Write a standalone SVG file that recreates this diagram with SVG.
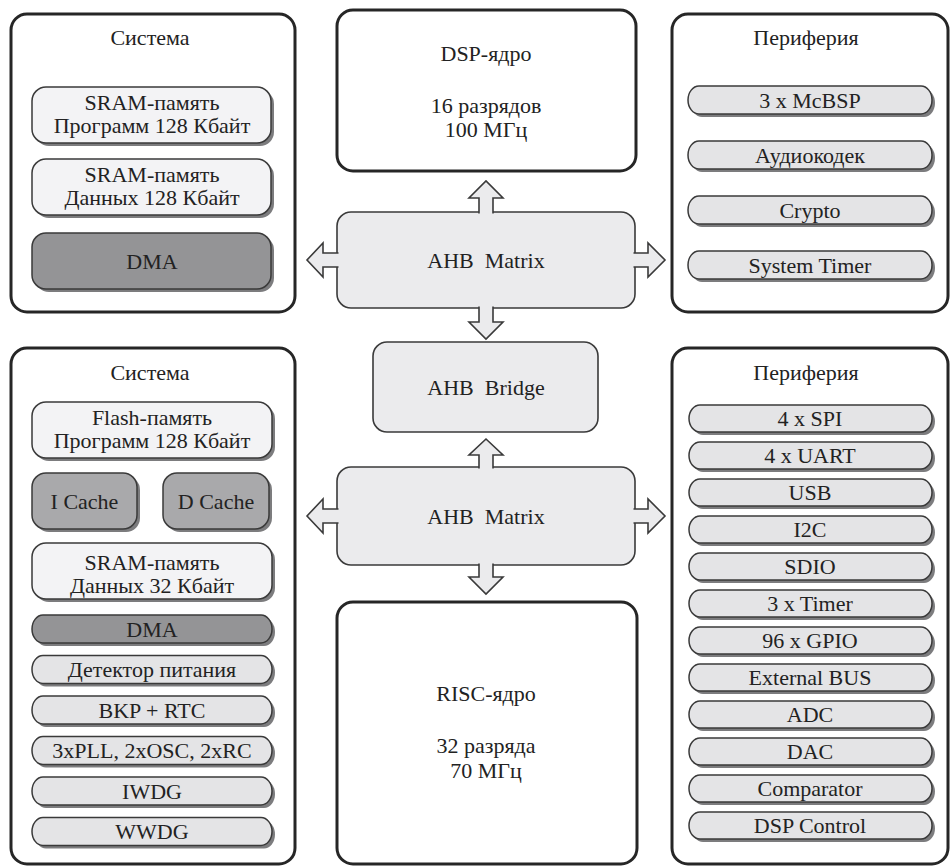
<svg xmlns="http://www.w3.org/2000/svg" width="950" height="868" viewBox="0 0 950 868">
  <style>
    text { font-family: "Liberation Serif", "Times New Roman", serif; font-size: 22px; fill: #222; text-anchor: middle; }
    .panel { fill: #ffffff; stroke: #262626; stroke-width: 3; }
    .bus { fill: #ebebed; stroke: #3a3a3a; stroke-width: 1.6; }
    .shadow { fill: #7c7c7e; }
    .pill { stroke: #3a3a3a; stroke-width: 1.5; }
    .light { fill: #f3f3f5; }
    .mid { fill: #e4e4e6; }
    .cache { fill: #a9a9ab; }
    .dark { fill: #949496; }
    .arrow { fill: #ebebed; stroke: #3a3a3a; stroke-width: 1.6; stroke-linejoin: miter; }
  </style>

  <!-- Upper system block -->
  <g id="sys-upper">
    <rect class="panel" x="11" y="14" width="284" height="298" rx="16"/>
    <text x="150" y="45">Система</text>
    <g id="sram-prog">
      <rect class="shadow" x="35" y="90" width="239" height="56" rx="14"/>
      <rect class="pill light" x="32" y="87" width="239" height="56" rx="14"/>
      <text x="152" y="110">SRAM-память</text>
      <text x="152" y="133">Программ 128 Кбайт</text>
    </g>
    <g id="sram-data">
      <rect class="shadow" x="35" y="162" width="239" height="56" rx="14"/>
      <rect class="pill light" x="32" y="159" width="239" height="56" rx="14"/>
      <text x="152" y="182">SRAM-память</text>
      <text x="152" y="205">Данных 128 Кбайт</text>
    </g>
    <g id="dma-upper">
      <rect class="shadow" x="35" y="236" width="239" height="56" rx="14"/>
      <rect class="pill dark" x="32" y="233" width="239" height="56" rx="14"/>
      <text x="152" y="269">DMA</text>
    </g>
  </g>

  <!-- DSP core -->
  <g id="dsp-core">
    <rect class="panel" x="337" y="10" width="299" height="161" rx="16"/>
    <text x="486" y="61">DSP-ядро</text>
    <text x="486" y="113">16 разрядов</text>
    <text x="486" y="137">100 МГц</text>
  </g>

  <!-- Upper peripheral block -->
  <g id="periph-upper">
    <rect class="panel" x="672" y="14" width="276" height="298" rx="16"/>
    <text x="806" y="45">Периферия</text>
    <g id="mcbsp">
      <rect class="shadow" x="691" y="89" width="244" height="28" rx="11" ry="14"/>
      <rect class="pill mid" x="688" y="86" width="244" height="28" rx="11" ry="14"/>
      <text x="810" y="107.5">3 x McBSP</text>
    </g>
    <g id="audiocodec">
      <rect class="shadow" x="691" y="144" width="244" height="28" rx="11" ry="14"/>
      <rect class="pill mid" x="688" y="141" width="244" height="28" rx="11" ry="14"/>
      <text x="810" y="162.5">Аудиокодек</text>
    </g>
    <g id="crypto">
      <rect class="shadow" x="691" y="199" width="244" height="28" rx="11" ry="14"/>
      <rect class="pill mid" x="688" y="196" width="244" height="28" rx="11" ry="14"/>
      <text x="810" y="217.5">Crypto</text>
    </g>
    <g id="system-timer">
      <rect class="shadow" x="691" y="254" width="244" height="28" rx="11" ry="14"/>
      <rect class="pill mid" x="688" y="251" width="244" height="28" rx="11" ry="14"/>
      <text x="810" y="272.5">System Timer</text>
    </g>
  </g>

  <!-- Bus fabric -->
  <g id="ahb-matrix-upper">
    <rect class="bus" x="337" y="212" width="298" height="96" rx="14"/>
    <text x="486" y="267.5" xml:space="preserve">AHB  Matrix</text>
  </g>
  <g id="ahb-bridge">
    <rect class="bus" x="373" y="342" width="225" height="90" rx="14"/>
    <text x="486" y="394.5" xml:space="preserve">AHB  Bridge</text>
  </g>
  <g id="ahb-matrix-lower">
    <rect class="bus" x="337" y="467" width="298" height="98" rx="14"/>
    <text x="486" y="523.5" xml:space="preserve">AHB  Matrix</text>
  </g>

  <!-- RISC core -->
  <g id="risc-core">
    <rect class="panel" x="337" y="602" width="300" height="262" rx="16"/>
    <text x="486" y="701">RISC-ядро</text>
    <text x="486" y="753">32 разряда</text>
    <text x="486" y="778">70 МГц</text>
  </g>

  <!-- Lower system block -->
  <g id="sys-lower">
    <rect class="panel" x="11" y="348" width="284" height="516" rx="16"/>
    <text x="150" y="380">Система</text>
    <g id="flash-prog">
      <rect class="shadow" x="35" y="405" width="240" height="56" rx="14"/>
      <rect class="pill light" x="32" y="402" width="240" height="56" rx="14"/>
      <text x="152" y="425">Flash-память</text>
      <text x="152" y="448">Программ 128 Кбайт</text>
    </g>
    <g id="i-cache">
      <rect class="shadow" x="35" y="476" width="105" height="56" rx="14"/>
      <rect class="pill cache" x="32" y="473" width="105" height="56" rx="14"/>
      <text x="84.5" y="509">I Cache</text>
    </g>
    <g id="d-cache">
      <rect class="shadow" x="166" y="476" width="106" height="56" rx="14"/>
      <rect class="pill cache" x="163" y="473" width="106" height="56" rx="14"/>
      <text x="216" y="509">D Cache</text>
    </g>
    <g id="sram-data-lower">
      <rect class="shadow" x="35" y="546" width="240" height="56" rx="14"/>
      <rect class="pill light" x="32" y="543" width="240" height="56" rx="14"/>
      <text x="152" y="570">SRAM-память</text>
      <text x="152" y="593">Данных 32 Кбайт</text>
    </g>
    <g id="dma-lower">
      <rect class="shadow" x="35" y="618" width="240" height="28" rx="11" ry="14"/>
      <rect class="pill dark" x="32" y="615" width="240" height="28" rx="11" ry="14"/>
      <text x="152" y="636.5">DMA</text>
    </g>
    <g id="power-detector">
      <rect class="shadow" x="35" y="658.5" width="240" height="28" rx="11" ry="14"/>
      <rect class="pill mid" x="32" y="655.5" width="240" height="28" rx="11" ry="14"/>
      <text x="152" y="677">Детектор питания</text>
    </g>
    <g id="bkp-rtc">
      <rect class="shadow" x="35" y="699" width="240" height="28" rx="11" ry="14"/>
      <rect class="pill mid" x="32" y="696" width="240" height="28" rx="11" ry="14"/>
      <text x="152" y="717.5">BKP + RTC</text>
    </g>
    <g id="clocks">
      <rect class="shadow" x="35" y="739.5" width="240" height="28" rx="11" ry="14"/>
      <rect class="pill mid" x="32" y="736.5" width="240" height="28" rx="11" ry="14"/>
      <text x="152" y="758">3xPLL, 2xOSC, 2xRC</text>
    </g>
    <g id="iwdg">
      <rect class="shadow" x="35" y="780" width="240" height="28" rx="11" ry="14"/>
      <rect class="pill mid" x="32" y="777" width="240" height="28" rx="11" ry="14"/>
      <text x="152" y="798.5">IWDG</text>
    </g>
    <g id="wwdg">
      <rect class="shadow" x="35" y="820.5" width="240" height="28" rx="11" ry="14"/>
      <rect class="pill mid" x="32" y="817.5" width="240" height="28" rx="11" ry="14"/>
      <text x="152" y="839">WWDG</text>
    </g>
  </g>

  <!-- Lower peripheral block -->
  <g id="periph-lower">
    <rect class="panel" x="672" y="348" width="276" height="516" rx="16"/>
    <text x="806" y="380">Периферия</text>
    <g id="spi"><rect class="shadow" x="692" y="408" width="243" height="27" rx="11" ry="13.5"/><rect class="pill mid" x="689" y="405" width="243" height="27" rx="11" ry="13.5"/><text x="810" y="426">4 x SPI</text></g>
    <g id="uart"><rect class="shadow" x="692" y="445" width="243" height="27" rx="11" ry="13.5"/><rect class="pill mid" x="689" y="442" width="243" height="27" rx="11" ry="13.5"/><text x="810" y="463">4 x UART</text></g>
    <g id="usb"><rect class="shadow" x="692" y="482" width="243" height="27" rx="11" ry="13.5"/><rect class="pill mid" x="689" y="479" width="243" height="27" rx="11" ry="13.5"/><text x="810" y="500">USB</text></g>
    <g id="i2c"><rect class="shadow" x="692" y="519" width="243" height="27" rx="11" ry="13.5"/><rect class="pill mid" x="689" y="516" width="243" height="27" rx="11" ry="13.5"/><text x="810" y="537">I2C</text></g>
    <g id="sdio"><rect class="shadow" x="692" y="556" width="243" height="27" rx="11" ry="13.5"/><rect class="pill mid" x="689" y="553" width="243" height="27" rx="11" ry="13.5"/><text x="810" y="574">SDIO</text></g>
    <g id="timers"><rect class="shadow" x="692" y="593" width="243" height="27" rx="11" ry="13.5"/><rect class="pill mid" x="689" y="590" width="243" height="27" rx="11" ry="13.5"/><text x="810" y="611">3 x Timer</text></g>
    <g id="gpio"><rect class="shadow" x="692" y="630" width="243" height="27" rx="11" ry="13.5"/><rect class="pill mid" x="689" y="627" width="243" height="27" rx="11" ry="13.5"/><text x="810" y="648">96 x GPIO</text></g>
    <g id="ext-bus"><rect class="shadow" x="692" y="667" width="243" height="27" rx="11" ry="13.5"/><rect class="pill mid" x="689" y="664" width="243" height="27" rx="11" ry="13.5"/><text x="810" y="685">External BUS</text></g>
    <g id="adc"><rect class="shadow" x="692" y="704" width="243" height="27" rx="11" ry="13.5"/><rect class="pill mid" x="689" y="701" width="243" height="27" rx="11" ry="13.5"/><text x="810" y="722">ADC</text></g>
    <g id="dac"><rect class="shadow" x="692" y="741" width="243" height="27" rx="11" ry="13.5"/><rect class="pill mid" x="689" y="738" width="243" height="27" rx="11" ry="13.5"/><text x="810" y="759">DAC</text></g>
    <g id="comparator"><rect class="shadow" x="692" y="778" width="243" height="27" rx="11" ry="13.5"/><rect class="pill mid" x="689" y="775" width="243" height="27" rx="11" ry="13.5"/><text x="810" y="796">Comparator</text></g>
    <g id="dsp-control"><rect class="shadow" x="692" y="815" width="243" height="27" rx="11" ry="13.5"/><rect class="pill mid" x="689" y="812" width="243" height="27" rx="11" ry="13.5"/><text x="810" y="833">DSP Control</text></g>
  </g>

  <!-- Bus arrows: open paths so the stroke stops at the bus box edge -->
  <g id="connectors">
    <path class="arrow" d="M479,213.5 V198 H469 L486,181 L503,198 H493 V213.5"/>
    <path class="arrow" d="M479,306.5 V322 H469 L486,339 L503,322 H493 V306.5"/>
    <path class="arrow" d="M338.5,253 H323 V243 L307,260 L323,277 V267 H338.5"/>
    <path class="arrow" d="M633.5,253 H648 V243 L665,260 L648,277 V267 H633.5"/>
    <path class="arrow" d="M479,468.5 V455 H469 L486,439 L503,455 H493 V468.5"/>
    <path class="arrow" d="M479,563.5 V577 H469 L486,594 L503,577 H493 V563.5"/>
    <path class="arrow" d="M338.5,509 H323 V499 L307,516 L323,533 V523 H338.5"/>
    <path class="arrow" d="M633.5,509 H648 V499 L665,516 L648,533 V523 H633.5"/>
  </g>
</svg>
